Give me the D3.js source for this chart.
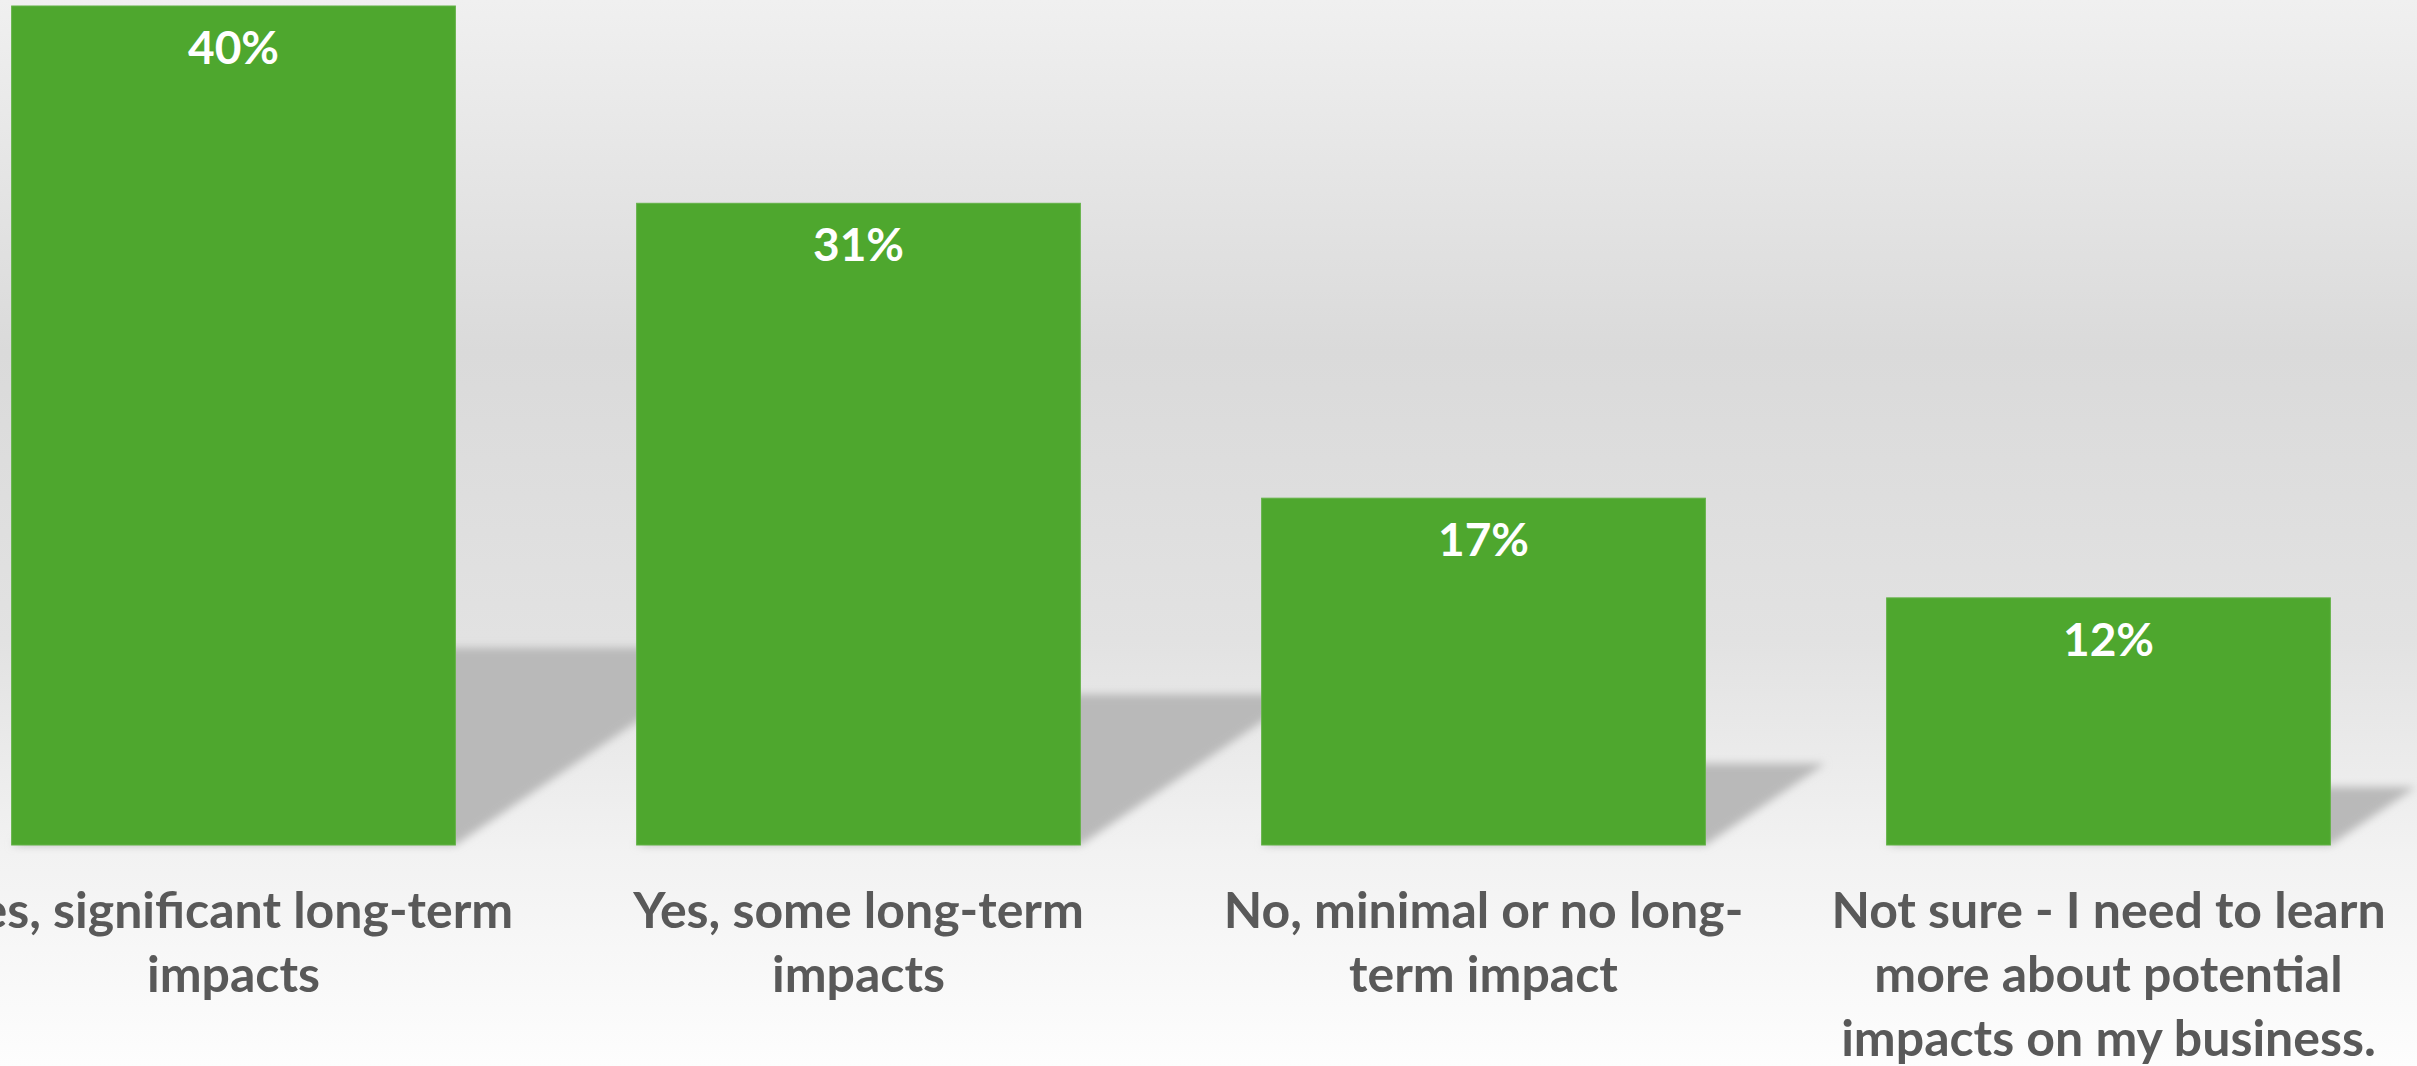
<!DOCTYPE html>
<html>
<head>
<meta charset="utf-8">
<script src="https://cdn.jsdelivr.net/npm/d3@7"></script>
<style>
  html, body { margin: 0; padding: 0; overflow: hidden; }
  svg { display: block; }
</style>
</head>
<body>
<script>
const width = 2417;
const height = 1066;

// survey answers, share of respondents
const categories = [
  "Yes, significant long-term impacts",
  "Yes, some long-term impacts",
  "No, minimal or no long-term impact",
  "Not sure - I need to learn more about potential impacts on my business."
];
const values = [0.404, 0.309, 0.167, 0.119];
// how the axis labels break onto lines
const labelLines = [
  ["Yes, significant long-term", "impacts"],
  ["Yes, some long-term", "impacts"],
  ["No, minimal or no long-", "term impact"],
  ["Not sure - I need to learn", "more about potential", "impacts on my business."]
];

const barColor = "#4ea72e";
const baseline = 845;

const svg = d3
  .select("body")
  .append("svg")
  .attr("width", width)
  .attr("height", height);

const defs = svg.append("defs");

// grey backdrop, darker band in the middle
const bg = defs
  .append("linearGradient")
  .attr("id", "bg")
  .attr("x1", 0).attr("y1", 0)
  .attr("x2", 0).attr("y2", 1);
[
  [0, "#f0f0f0"],
  [0.33, "#dadada"],
  [0.6, "#e2e2e2"],
  [0.8, "#f2f2f2"],
  [1, "#fdfdfd"]
].forEach(([o, c]) => bg.append("stop").attr("offset", o).attr("stop-color", c));

defs
  .append("filter")
  .attr("id", "blur")
  .attr("x", "-20%").attr("y", "-20%")
  .attr("width", "140%").attr("height", "140%")
  .append("feGaussianBlur")
  .attr("stdDeviation", 4);

svg.append("rect")
  .attr("width", width)
  .attr("height", height)
  .attr("fill", "url(#bg)");

const x = d3
  .scaleBand()
  .domain(categories)
  .range([-79, 2421])
  .paddingInner(0.29)
  .paddingOuter(0.145);

const y = d3.scaleLinear().domain([0, 0.404]).range([baseline, 6]);

// perspective shadows falling to the right of each bar
svg
  .append("g")
  .attr("filter", "url(#blur)")
  .selectAll("path")
  .data(categories)
  .join("path")
  .attr("fill", "#b9b9b9")
  .attr("d", (d, i) => {
    const h = baseline - y(values[i]);
    const hs = h * 0.235;
    const dx = hs * 1.47;
    const x0 = x(d);
    const x1 = x(d) + x.bandwidth();
    return `M${x0},${baseline}L${x1},${baseline}L${x1 + dx},${baseline - hs}L${x0 + dx},${baseline - hs}Z`;
  });

// bars
svg
  .append("g")
  .selectAll("rect")
  .data(categories)
  .join("rect")
  .attr("x", (d) => x(d))
  .attr("y", (d, i) => y(values[i]))
  .attr("width", x.bandwidth())
  .attr("height", (d, i) => baseline - y(values[i]))
  .attr("fill", barColor)
  .attr("stroke", "#63b247")
  .attr("stroke-width", 1);

// value labels inside the top of the bars
const fmt = d3.format(".0%");
svg
  .append("g")
  .selectAll("text")
  .data(categories)
  .join("text")
  .attr("x", (d) => x(d) + x.bandwidth() / 2)
  .attr("y", (d, i) => y(values[i]) + 58)
  .attr("text-anchor", "middle")
  .attr("fill", "#ffffff")
  .attr("font-family", "Lato, 'Open Sans', sans-serif")
  .attr("font-weight", "bold")
  .attr("font-size", 46)
  .text((d, i) => fmt(values[i]));

// category labels under the bars
const labels = svg
  .append("g")
  .selectAll("text")
  .data(categories)
  .join("text")
  .attr("text-anchor", "middle")
  .attr("fill", "#595959")
  .attr("font-family", "Lato, 'Open Sans', sans-serif")
  .attr("font-weight", "bold")
  .attr("font-size", 50);

labels
  .selectAll("tspan")
  .data((d, i) => labelLines[i].map((t) => ({ t, cx: x(d) + x.bandwidth() / 2 })))
  .join("tspan")
  .attr("x", (d) => d.cx)
  .attr("y", (d, j) => 928 + j * 64)
  .text((d) => d.t);
</script>
</body>
</html>
